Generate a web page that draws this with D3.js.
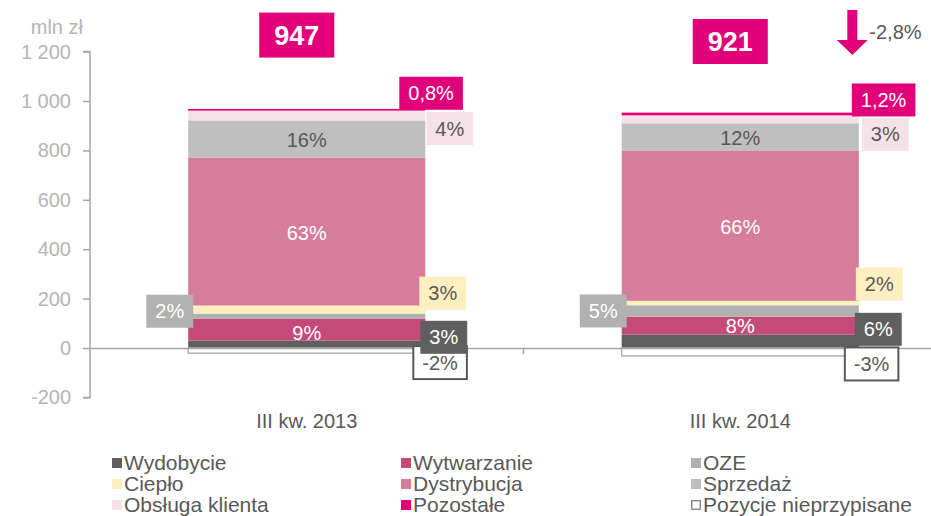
<!DOCTYPE html>
<html>
<head>
<meta charset="utf-8">
<script src="https://cdn.jsdelivr.net/npm/d3@7.9.0/dist/d3.min.js"></script>
<style>
  body { margin: 0; background: #fff; }
  svg { font-family: "Liberation Sans", Arial, sans-serif; display: block; }
</style>
</head>
<body>
<div id="chart"></div>
<script>
// categories and series (mln zł)
const categories = ['III kw. 2013', 'III kw. 2014'];
const seriesNames = ['Wydobycie', 'Wytwarzanie', 'OZE', 'Ciepło', 'Dystrybucja',
    'Sprzedaż', 'Obsługa klienta', 'Pozostałe', 'Pozycje nieprzypisane'];

const wydobycie = [30, 54];
const wytwarzanie = [88, 73];
const oze = [21, 46];
const cieplo = [33, 18];
const dystrybucja = [598, 609];
const sprzedaz = [151, 110];
const obsluga = [40, 32];
const pozostale = [7, 11];
const nieprzypisane = [-21, -32];

const totals = [947, 921];
const changeLabel = '-2,8%';

// share labels, per series, per year
const shareLabels = [
    ['3%', '6%'],
    ['9%', '8%'],
    ['2%', '5%'],
    ['3%', '2%'],
    ['63%', '66%'],
    ['16%', '12%'],
    ['4%', '3%'],
    ['0,8%', '1,2%'],
    ['-2%', '-3%'],
];

const yTicks = [-200, 0, 200, 400, 600, 800, 1000, 1200];

const seriesValues = [wydobycie, wytwarzanie, oze, cieplo, dystrybucja,
    sprzedaz, obsluga, pozostale, nieprzypisane];

// styles
const colors = ['#5f5f5f', '#c44a77', '#b1b1b1', '#fdefbf', '#d57d9b',
    '#bfbfbf', '#f5e1e8', '#e2007a', '#ffffff'];
const textColors = ['#fff', '#fff', '#fff', '#595959', '#fff',
    '#595959', '#595959', '#fff', '#595959'];

// label placement: 'in' = centred inside the segment,
// 'r' / 'l' = boxed callout to the right / left side of the bar
const labelLayout = [
    [{ side: 'r', dx: -5, dy: -7 }, { side: 'r', dx: -4, dy: -12 }],
    [{ side: 'in', dy: 3 }, { side: 'in', dy: 0 }],
    [{ side: 'l', dx: 5, dy: -5 }, { side: 'l', dx: 5, dy: 0 }],
    [{ side: 'r', dx: -6, dy: -16.5 }, { side: 'r', dx: -3, dy: -19 }],
    [{ side: 'in', dy: 1 }, { side: 'in', dy: 1 }],
    [{ side: 'in', dy: 1 }, { side: 'in', dy: 1 }],
    [{ side: 'r', dx: 1, dy: 13 }, { side: 'r', dx: 3, dy: 15 }],
    [{ side: 'r', dx: -26, dy: -16.5 }, { side: 'r', dx: -7, dy: -14 }],
    [{ side: 'r', dx: -12, dy: 12 }, { side: 'r', dx: -14, dy: 12 }],
];

const width = 931;
const height = 516;
const axisColor = '#a6a6a6';
const tickTextColor = '#b5b5b5';
const textColor = '#595959';
const fontSize = 20;
const legendFontSize = 21;

const table = categories.map((c, i) => {
    const row = { category: c };
    seriesNames.forEach((s, j) => { row[s] = seriesValues[j][i]; });
    return row;
});

const stacked = d3.stack()
    .keys(seriesNames)
    .offset(d3.stackOffsetDiverging)(table);

const xScale = d3.scaleBand()
    .domain(categories)
    .range([90, 957])
    .paddingInner(0.453)
    .paddingOuter(0.2265);

const yScale = d3.scaleLinear()
    .domain([-200, 1200])
    .range([397.4, 51.6]);

// space as thousands separator, plain hyphen for negatives
const fmt = d3.formatLocale({
    decimal: ',', thousands: ' ', grouping: [3], currency: ['', ''], minus: '-',
}).format(',');

const svg = d3.select('#chart')
    .append('svg')
    .attr('width', width)
    .attr('height', height)
    .attr('viewBox', `0 0 ${width} ${height}`);

// Y axis
const yAxis = svg.append('g')
    .attr('transform', `translate(${xScale.range()[0]}, 0)`)
    .call(d3.axisLeft(yScale).tickValues(yTicks).tickFormat(fmt).tickSize(7).tickPadding(12));
yAxis.selectAll('path, line').attr('stroke', axisColor).attr('stroke-width', 1.5);
yAxis.select('.domain').attr('d', `M-7,${yScale(1200)}H0V${yScale(-200)}H-7`);
yAxis.selectAll('text')
    .attr('fill', tickTextColor)
    .style('font-size', fontSize + 'px')
    .style('font-family', '"Liberation Sans", Arial, sans-serif');

svg.append('text')
    .attr('x', 83)
    .attr('y', 34)
    .attr('text-anchor', 'end')
    .attr('fill', tickTextColor)
    .style('font-size', fontSize + 'px')
    .text('mln zł');

// bars
const barGroups = svg.append('g').attr('class', 'bars')
    .selectAll('g')
    .data(stacked)
    .join('g')
    .attr('fill', (d, i) => colors[i]);

barGroups.selectAll('rect')
    .data((d) => d)
    .join('rect')
    .attr('x', (d) => xScale(d.data.category))
    .attr('width', xScale.bandwidth())
    .attr('y', (d) => yScale(Math.max(d[0], d[1])))
    .attr('height', (d) => Math.abs(yScale(d[0]) - yScale(d[1])));

// unassigned items: outline only
barGroups.filter((d) => d.key === 'Pozycje nieprzypisane')
    .selectAll('rect')
    .attr('stroke', '#b1b1b1')
    .attr('stroke-width', 1.5);

// X axis line at zero, with ticks between categories
const xAxis = svg.append('g')
    .attr('transform', `translate(0, ${yScale(0)})`)
    .call(d3.axisBottom(xScale).tickSize(0).tickPadding(66));
xAxis.select('.domain').attr('stroke', axisColor).attr('stroke-width', 1.5);
xAxis.selectAll('text')
    .attr('fill', textColor)
    .style('font-size', fontSize + 'px')
    .style('font-family', '"Liberation Sans", Arial, sans-serif');
const divider = xScale(categories[1]) - xScale.step() * xScale.paddingInner() / 2;
xAxis.append('line')
    .attr('x1', divider)
    .attr('x2', divider)
    .attr('y1', 0)
    .attr('y2', 6)
    .attr('stroke', axisColor)
    .attr('stroke-width', 1.5);

// data labels
const labels = svg.append('g').attr('class', 'labels');

function boxLabel(g, text, cx, cy, fill, color, opts = {}) {
    const t = g.append('text')
        .attr('x', cx)
        .attr('y', cy)
        .attr('dy', '0.35em')
        .attr('text-anchor', 'middle')
        .attr('fill', color)
        .style('font-size', (opts.size || fontSize) + 'px')
        .style('font-weight', opts.bold ? 'bold' : 'normal')
        .text(text);
    const w = t.node().getComputedTextLength() + (opts.padX || 18);
    const h = opts.h || 33;
    g.insert('rect', () => t.node())
        .attr('x', cx - w / 2)
        .attr('y', cy - h / 2)
        .attr('width', w)
        .attr('height', h)
        .attr('fill', fill)
        .attr('stroke', opts.stroke || 'none')
        .attr('stroke-width', opts.stroke ? 2 : 0);
    return w;
}

function measure(text, size) {
    const t = svg.append('text').style('font-size', size + 'px').text(text);
    const w = t.node().getComputedTextLength();
    t.remove();
    return w;
}

// draw order so that overlapping callouts match the picture
const drawOrder = [8, 0, 1, 2, 3, 4, 5, 6, 7];
drawOrder.forEach((si) => {
    const layer = stacked[si];
    layer.forEach((d, ci) => {
        const lay = labelLayout[si][ci];
        const text = shareLabels[si][ci];
        const x0 = xScale(d.data.category);
        const mid = yScale((d[0] + d[1]) / 2) + lay.dy;
        if (lay.side === 'in') {
            labels.append('text')
                .attr('x', x0 + xScale.bandwidth() / 2)
                .attr('y', mid)
                .attr('dy', '0.35em')
                .attr('text-anchor', 'middle')
                .attr('fill', textColors[si])
                .style('font-size', fontSize + 'px')
                .text(text);
            return;
        }
        const w = measure(text, fontSize) + 18;
        const cx = lay.side === 'r'
            ? x0 + xScale.bandwidth() + lay.dx + w / 2
            : x0 + lay.dx - w / 2;
        const g = labels.append('g');
        if (si === 8) {
            boxLabel(g, text, cx, mid, '#fff', textColor, { stroke: textColor });
        } else {
            boxLabel(g, text, cx, mid, colors[si], textColors[si]);
        }
    });
});

// totals
categories.forEach((c, i) => {
    const g = svg.append('g');
    boxLabel(g, String(totals[i]), xScale(c) + xScale.bandwidth() / 2 - 10,
        yScale(totals[i]) - 79, '#e2007a', '#fff',
        { bold: true, size: 27, padX: 30, h: 45 });
});

// change arrow
const ax = xScale(categories[1]) + xScale.bandwidth() - 6.5;
svg.append('path')
    .attr('d', `M${ax - 5},10H${ax + 5}V40H${ax + 15.5}L${ax},55L${ax - 15.5},40H${ax - 5}Z`)
    .attr('fill', '#e2007a');
svg.append('text')
    .attr('x', ax + 17)
    .attr('y', 32)
    .attr('dy', '0.35em')
    .attr('fill', textColor)
    .style('font-size', fontSize + 'px')
    .text(changeLabel);

// legend
const legendCols = [112, 401, 691];
const legendRows = [463, 484, 505];
const legendOrder = [
    [0, 1, 2],
    [3, 4, 5],
    [6, 7, 8],
];
const legend = svg.append('g').attr('class', 'legend');
legendOrder.forEach((row, r) => {
    row.forEach((si, c) => {
        const g = legend.append('g')
            .attr('transform', `translate(${legendCols[c]}, ${legendRows[r]})`);
        g.append('rect')
            .attr('x', si === 8 ? 0.75 : 0)
            .attr('y', si === 8 ? -4.25 : -5)
            .attr('width', si === 8 ? 8.5 : 10)
            .attr('height', si === 8 ? 8.5 : 10)
            .attr('fill', colors[si])
            .attr('stroke', si === 8 ? '#8c8c8c' : 'none')
            .attr('stroke-width', 1.5);
        g.append('text')
            .attr('x', 12)
            .attr('y', 0)
            .attr('dy', '0.35em')
            .attr('fill', textColor)
            .style('font-size', legendFontSize + 'px')
            .text(seriesNames[si]);
    });
});
</script>
</body>
</html>
